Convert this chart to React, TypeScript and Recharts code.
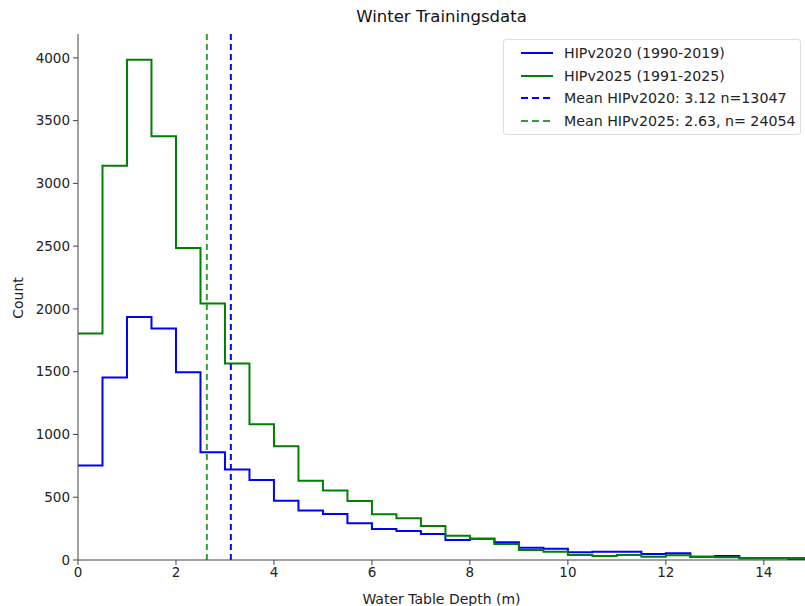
import {
  ComposedChart,
  Line,
  XAxis,
  YAxis,
  ReferenceLine,
  Legend,
} from "recharts";

// bin edges 0.0 .. 14.5 (bin width 0.5), last edge 15
const binStarts = [
  0, 0.5, 1, 1.5, 2, 2.5, 3, 3.5, 4, 4.5, 5, 5.5, 6, 6.5, 7, 7.5, 8, 8.5, 9,
  9.5, 10, 10.5, 11, 11.5, 12, 12.5, 13, 13.5, 14, 14.5,
];
const lastEdge = 15;

const hip2020 = [
  752, 1453, 1936, 1845, 1496, 858, 720, 637, 472, 395, 367, 292, 247, 231,
  207, 159, 170, 141, 98, 90, 61, 66, 66, 48, 53, 26, 32, 13, 13, 8,
];
const hip2025 = [
  1805, 3140, 3985, 3376, 2485, 2043, 1566, 1082, 907, 632, 553, 470, 364,
  332, 271, 194, 170, 127, 80, 66, 40, 32, 40, 26, 37, 26, 21, 13, 13, 16,
];

const mean2020 = 3.12;
const mean2025 = 2.63;

const xTicks = [0, 2, 4, 6, 8, 10, 12, 14];
const yTicks = [0, 500, 1000, 1500, 2000, 2500, 3000, 3500, 4000];

const legendItems = [
  { label: "HIPv2020 (1990-2019)", color: "#0000ff", dashed: false },
  { label: "HIPv2025 (1991-2025)", color: "#008000", dashed: false },
  { label: "Mean HIPv2020: 3.12 n=13047", color: "#0000ff", dashed: true },
  { label: "Mean HIPv2025: 2.63, n= 24054", color: "#2ca02c", dashed: true },
];

const data = [
  ...binStarts.map((x, i) => ({ x, hip2020: hip2020[i], hip2025: hip2025[i] })),
  {
    x: lastEdge,
    hip2020: hip2020[hip2020.length - 1],
    hip2025: hip2025[hip2025.length - 1],
  },
];

const font = "DejaVu Sans, sans-serif";
const tickStyle = { fontSize: 13.5, fill: "#222", fontFamily: font };

function HistLegend() {
  return (
    <div
      style={{
        border: "1px solid #ddd",
        borderRadius: 3,
        background: "rgba(255,255,255,0.85)",
        padding: "2px 4px 2px 16px",
        fontFamily: font,
        fontSize: 14.2,
        color: "#222",
        boxSizing: "border-box",
        height: 96,
      }}
    >
      {legendItems.map((item) => (
        <div
          key={item.label}
          style={{ display: "flex", alignItems: "center", height: 22.5 }}
        >
          <svg
            width={34}
            height={10}
            style={{ marginRight: 10, flexShrink: 0 }}
          >
            <line
              x1={1}
              y1={5}
              x2={33}
              y2={5}
              stroke={item.color}
              strokeWidth={2}
              strokeDasharray={item.dashed ? "7 4" : undefined}
            />
          </svg>
          <span style={{ whiteSpace: "nowrap" }}>{item.label}</span>
        </div>
      ))}
    </div>
  );
}

export default function App() {
  return (
    <div
      style={{
        position: "absolute",
        left: 0,
        top: 0,
        width: 805,
        height: 606,
        background: "#fff",
        fontFamily: font,
      }}
    >
      <div
        style={{
          position: "absolute",
          top: 7,
          left: 78,
          width: 727,
          textAlign: "center",
          fontSize: 16.5,
          color: "#111",
        }}
      >
        Winter Trainingsdata
      </div>
      <div
        style={{
          position: "absolute",
          left: 18,
          top: 298,
          transform: "translate(-50%, -50%) rotate(-90deg)",
          fontSize: 14,
          color: "#222",
        }}
      >
        Count
      </div>
      <ComposedChart
        width={805}
        height={606}
        data={data}
        margin={{ top: 34, right: 0, bottom: 0, left: 0 }}
      >
        <XAxis
          xAxisId="top"
          orientation="top"
          dataKey="x"
          type="number"
          domain={[0, 14.84]}
          allowDataOverflow
          tick={false}
          tickLine={false}
          height={0}
          stroke="#444"
        />
        <XAxis
          dataKey="x"
          type="number"
          domain={[0, 14.84]}
          allowDataOverflow
          ticks={xTicks}
          tick={tickStyle}
          tickSize={5}
          tickMargin={2}
          height={46}
          stroke="#444"
          label={{
            value: "Water Table Depth (m)",
            position: "insideBottom",
            offset: 2,
            style: { fontSize: 14, fill: "#222", fontFamily: font },
          }}
        />
        <YAxis
          type="number"
          domain={[0, 4190]}
          ticks={yTicks}
          tick={tickStyle}
          tickSize={5}
          tickMargin={3}
          width={78}
          stroke="#444"
          allowDataOverflow
        />
        <Legend
          layout="vertical"
          align="center"
          verticalAlign="middle"
          content={HistLegend}
          wrapperStyle={{ position: "absolute", top: 39, left: 503, width: 298 }}
        />
        <Line
          type="stepAfter"
          dataKey="hip2020"
          stroke="#0000ff"
          strokeWidth={2}
          dot={false}
          isAnimationActive={false}
        />
        <Line
          type="stepAfter"
          dataKey="hip2025"
          stroke="#008000"
          strokeWidth={2}
          dot={false}
          isAnimationActive={false}
        />
        <ReferenceLine
          x={mean2020}
          stroke="#0000ff"
          strokeWidth={2}
          strokeDasharray="6 4"
        />
        <ReferenceLine
          x={mean2025}
          stroke="#2ca02c"
          strokeWidth={2}
          strokeDasharray="6 4"
        />
      </ComposedChart>
    </div>
  );
}
